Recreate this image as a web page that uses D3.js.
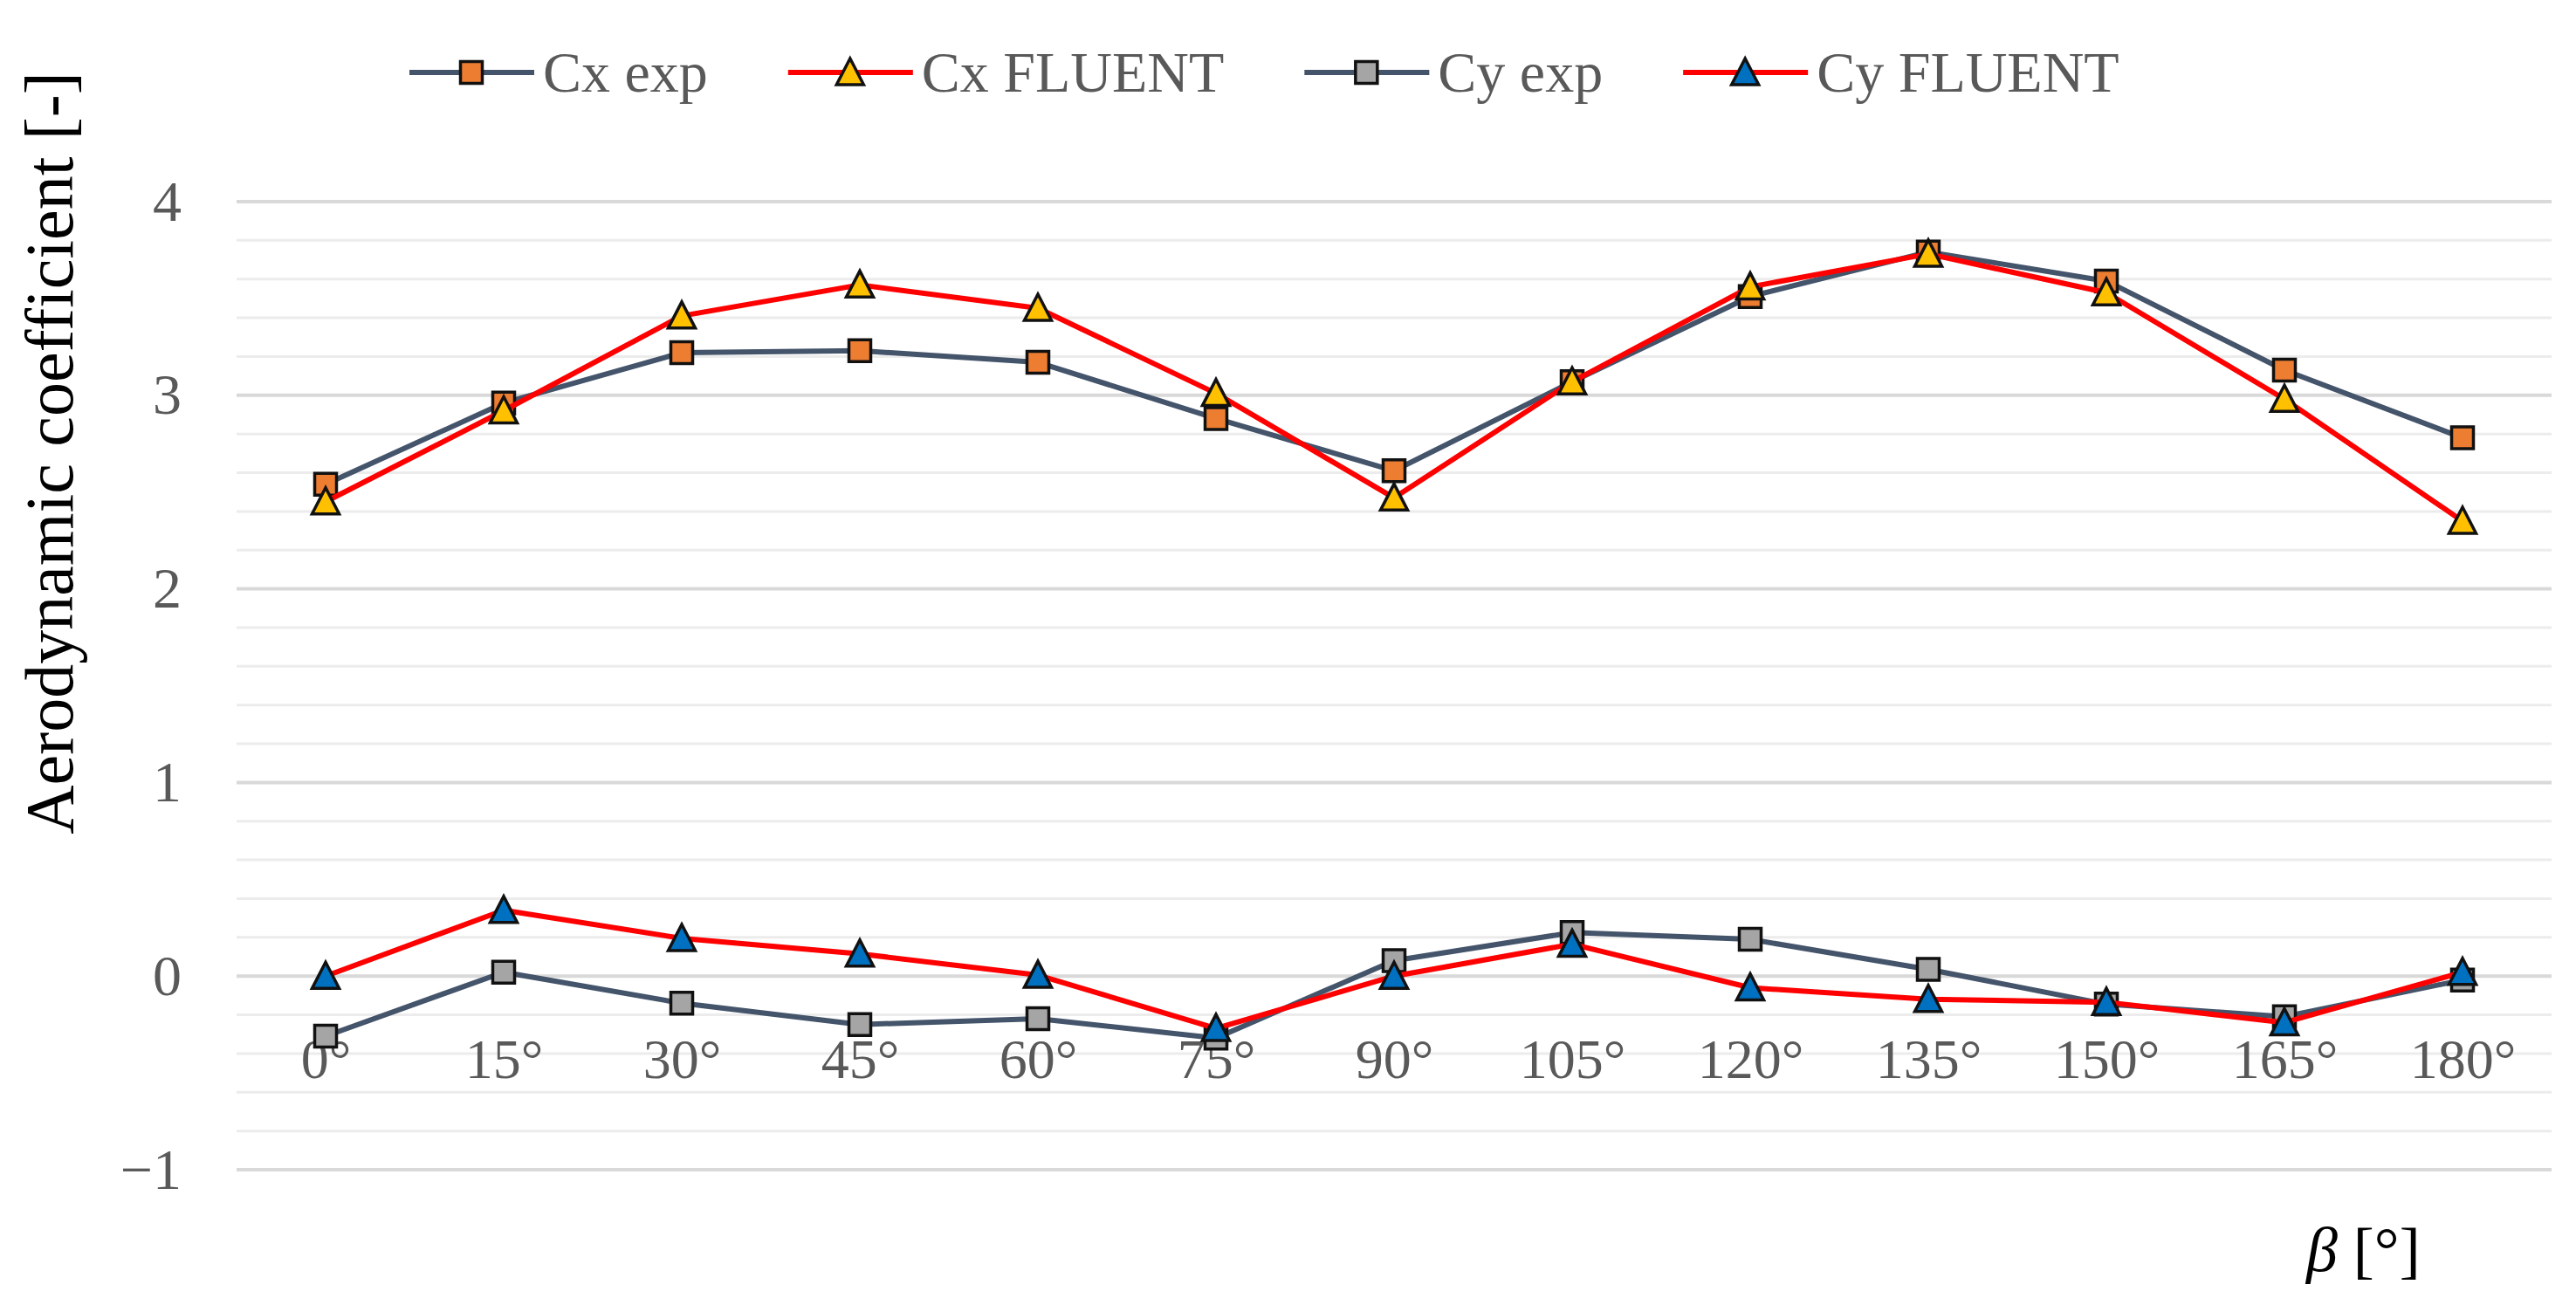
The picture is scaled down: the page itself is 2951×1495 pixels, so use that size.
<!DOCTYPE html>
<html>
<head>
<meta charset="utf-8">
<script src="https://cdn.jsdelivr.net/npm/d3@7"></script>
<style>
  body { margin: 0; background: #fff; }
  text { font-family: "Liberation Serif", "DejaVu Serif", serif; }
</style>
</head>
<body>
<script>
var categories = ["0°", "15°", "30°", "45°", "60°", "75°", "90°", "105°", "120°", "135°", "150°", "165°", "180°"];
var cxExp    = [2.54, 2.96, 3.22, 3.23, 3.17, 2.88, 2.61, 3.07, 3.51, 3.74, 3.59, 3.13, 2.78];
var cxFluent = [2.45, 2.92, 3.41, 3.57, 3.45, 3.01, 2.47, 3.07, 3.56, 3.73, 3.53, 2.98, 2.35];
var cyExp    = [-0.31, 0.02, -0.14, -0.25, -0.22, -0.32, 0.08, 0.225, 0.19, 0.035, -0.145, -0.21, -0.02];
var cyFluent = [0.00, 0.34, 0.195, 0.115, 0.005, -0.27, 0.00, 0.165, -0.06, -0.12, -0.135, -0.24, 0.02];
var yTicks = [-1, 0, 1, 2, 3, 4];

var series = [
  { name: "Cx exp", values: cxExp, line: "#44546A", fill: "#ED7D31", shape: "square" },
  { name: "Cx FLUENT", values: cxFluent, line: "#FF0000", fill: "#FFC000", shape: "triangle" },
  { name: "Cy exp", values: cyExp, line: "#44546A", fill: "#A5A5A5", shape: "square" },
  { name: "Cy FLUENT", values: cyFluent, line: "#FF0000", fill: "#0070C0", shape: "triangle" }
];

var W = 2951, H = 1495;
var svg = d3.select("body").append("svg").attr("width", W).attr("height", H);

var x = d3.scalePoint().domain(categories).range([271, 2923]).padding(0.5);
var y = d3.scaleLinear().domain([-1, 4]).range([1340, 231]);

// gridlines
var minor = d3.range(-1, 4.001, 0.2).filter(function (d) { return Math.abs(d - Math.round(d)) > 0.01; });
svg.append("g").selectAll("line")
  .data(minor).enter().append("line")
  .attr("x1", 271).attr("x2", 2923)
  .attr("y1", function (d) { return y(d); })
  .attr("y2", function (d) { return y(d); })
  .attr("stroke", "#ececec").attr("stroke-width", 3);
svg.append("g").selectAll("line")
  .data(yTicks).enter().append("line")
  .attr("x1", 271).attr("x2", 2923)
  .attr("y1", function (d) { return y(d); })
  .attr("y2", function (d) { return y(d); })
  .attr("stroke", "#d9d9d9").attr("stroke-width", 4);

// y axis
var yAxis = svg.append("g").attr("transform", "translate(271,0)")
  .call(d3.axisLeft(y).tickValues(yTicks).tickFormat(d3.format("d")).tickSize(0).tickPadding(63));
yAxis.select(".domain").remove();
yAxis.selectAll("text").attr("font-size", 66).attr("fill", "#595959")
  .style("font-family", "Liberation Serif");

// x axis at zero
var xAxis = svg.append("g").attr("transform", "translate(0," + y(0) + ")")
  .call(d3.axisBottom(x).tickSize(0).tickPadding(71));
xAxis.select(".domain").remove();
xAxis.selectAll("text").attr("font-size", 64).attr("fill", "#595959")
  .style("font-family", "Liberation Serif");

// titles
svg.append("text")
  .attr("transform", "translate(83,519) rotate(-90)")
  .attr("text-anchor", "middle")
  .attr("font-size", 78)
  .attr("fill", "#000")
  .text("Aerodynamic coefficient [-]");

var bt = svg.append("text").attr("x", 2642).attr("y", 1456).attr("font-size", 72).attr("fill", "#000");
bt.append("tspan").attr("font-style", "italic").text("β");
bt.append("tspan").text(" [°]");

function markerPath(shape) {
  if (shape === "square") return "M-12.5,-12.5H12.5V12.5H-12.5Z";
  return "M0,-16L15.5,14L-15.5,14Z";
}

var line = d3.line()
  .x(function (d, i) { return x(categories[i]); })
  .y(function (d) { return y(d); });

series.forEach(function (s) {
  svg.append("path")
    .datum(s.values)
    .attr("d", line)
    .attr("fill", "none")
    .attr("stroke", s.line)
    .attr("stroke-width", 6)
    .attr("stroke-linejoin", "round");
  svg.append("g").selectAll("path")
    .data(s.values).enter().append("path")
    .attr("transform", function (d, i) { return "translate(" + x(categories[i]) + "," + y(d) + ")"; })
    .attr("d", markerPath(s.shape))
    .attr("fill", s.fill)
    .attr("stroke", "#111")
    .attr("stroke-width", 3.5)
    .attr("stroke-linejoin", "miter");
});

// legend
var lx = 469;
series.forEach(function (s) {
  var g = svg.append("g");
  g.append("line").attr("x1", lx).attr("x2", lx + 143).attr("y1", 83).attr("y2", 83)
    .attr("stroke", s.line).attr("stroke-width", 6);
  g.append("path").attr("transform", "translate(" + (lx + 71) + ",83)")
    .attr("d", markerPath(s.shape))
    .attr("fill", s.fill).attr("stroke", "#111").attr("stroke-width", 3.5);
  var t = g.append("text").attr("x", lx + 153).attr("y", 105)
    .attr("font-size", 66).attr("fill", "#595959").text(s.name);
  lx = lx + 153 + t.node().getComputedTextLength() + 92;
});
</script>
</body>
</html>
